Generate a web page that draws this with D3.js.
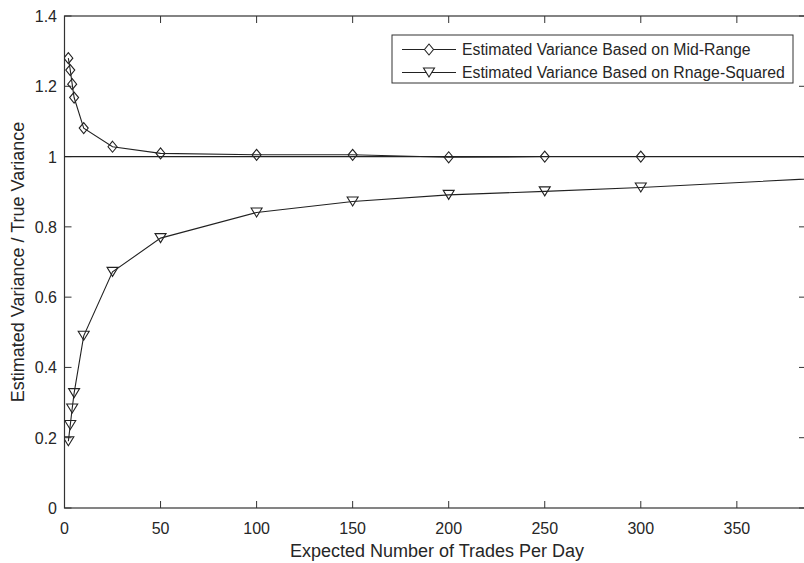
<!DOCTYPE html>
<html><head><meta charset="utf-8">
<script src="https://cdn.jsdelivr.net/npm/d3@7"></script>
<style>body{margin:0;background:#fff}svg{display:block}</style>
</head><body>
<svg id="c" width="804" height="563"></svg>
<script>
const xTrades = [2, 3, 4, 5, 10, 25, 50, 100, 150, 200, 250, 300, 400];
const midRange = [1.280, 1.246, 1.206, 1.168, 1.081, 1.028, 1.009, 1.005, 1.005, 0.998, 1.000, 1.000, 1.000];
const rangeSquared = [0.190, 0.236, 0.283, 0.327, 0.490, 0.672, 0.768, 0.841, 0.872, 0.891, 0.901, 0.912, 0.940];
const xTicks = [0, 50, 100, 150, 200, 250, 300, 350];
const yTicks = [0, 0.2, 0.4, 0.6, 0.8, 1, 1.2, 1.4];
const seriesNames = ["Estimated Variance Based on Mid-Range", "Estimated Variance Based on Rnage-Squared"];
const xLabel = "Expected Number of Trades Per Day";
const yLabel = "Estimated Variance / True Variance";

const svg = d3.select("#c");
const L = 64.5, R = 806, T = 16, B = 508;
const x = d3.scaleLinear().domain([0, 386]).range([L, R]);
const y = d3.scaleLinear().domain([0, 1.4]).range([B, T]);
const axisCol = "#333", lineCol = "#222", textCol = "#262626";
const font = "'Liberation Sans', Arial, sans-serif";

svg.append("defs").append("clipPath").attr("id", "clip")
  .append("rect").attr("x", L).attr("y", T).attr("width", R - L).attr("height", B - T);

// axes box
svg.append("rect").attr("x", L).attr("y", T).attr("width", R - L).attr("height", B - T)
  .attr("fill", "none").attr("stroke", axisCol).attr("stroke-width", 1.2);

// ticks
const tl = 7;
const xg = svg.append("g");
xTicks.forEach(t => {
  xg.append("line").attr("x1", x(t)).attr("x2", x(t)).attr("y1", B).attr("y2", B - tl).attr("stroke", axisCol);
  xg.append("line").attr("x1", x(t)).attr("x2", x(t)).attr("y1", T).attr("y2", T + tl).attr("stroke", axisCol);
  xg.append("text").attr("x", x(t)).attr("y", 534).attr("text-anchor", "middle")
    .attr("font-family", font).attr("font-size", 16).attr("fill", textCol).text(t);
});
const yg = svg.append("g");
yTicks.forEach(t => {
  yg.append("line").attr("x1", L).attr("x2", L + tl).attr("y1", y(t)).attr("y2", y(t)).attr("stroke", axisCol);
  yg.append("line").attr("x1", R).attr("x2", R - tl).attr("y1", y(t)).attr("y2", y(t)).attr("stroke", axisCol);
  yg.append("text").attr("x", 57).attr("y", y(t) + 6).attr("text-anchor", "end")
    .attr("font-family", font).attr("font-size", 16).attr("fill", textCol).text(d3.format("~g")(t));
});

// axis labels
svg.append("text").attr("x", 437).attr("y", 557).attr("text-anchor", "middle")
  .attr("font-family", font).attr("font-size", 18).attr("fill", textCol).text(xLabel);
svg.append("text").attr("transform", `translate(24,${(T + B) / 2}) rotate(-90)`).attr("text-anchor", "middle")
  .attr("font-family", font).attr("font-size", 18).attr("fill", textCol).text(yLabel);

const plot = svg.append("g").attr("clip-path", "url(#clip)");

// reference line at 1
plot.append("line").attr("x1", L).attr("x2", R).attr("y1", y(1)).attr("y2", y(1))
  .attr("stroke", lineCol).attr("stroke-width", 1.2);

const line = d3.line().x(d => x(d[0])).y(d => y(d[1]));
const midPts = xTrades.map((v, i) => [v, midRange[i]]);
const sqPts = xTrades.map((v, i) => [v, rangeSquared[i]]);

const diamond = (cx, cy) => `M${cx},${cy - 5.5}L${cx + 4.5},${cy}L${cx},${cy + 5.5}L${cx - 4.5},${cy}Z`;
const triangle = (cx, cy) => `M${cx - 5.5},${cy - 4.5}L${cx + 5.5},${cy - 4.5}L${cx},${cy + 4.5}Z`;

plot.append("path").attr("d", line(midPts)).attr("fill", "none").attr("stroke", lineCol).attr("stroke-width", 1.1);
plot.append("path").attr("d", line(sqPts)).attr("fill", "none").attr("stroke", lineCol).attr("stroke-width", 1.1);

plot.selectAll(".dm").data(midPts.filter(d => d[0] <= 300)).enter().append("path")
  .attr("d", d => diamond(x(d[0]), y(d[1]))).attr("fill", "none").attr("stroke", lineCol).attr("stroke-width", 1.1);
plot.selectAll(".tr").data(sqPts.filter(d => d[0] <= 300)).enter().append("path")
  .attr("d", d => triangle(x(d[0]), y(d[1]))).attr("fill", "none").attr("stroke", lineCol).attr("stroke-width", 1.1);

// legend
const lg = svg.append("g");
lg.append("rect").attr("x", 392).attr("y", 35).attr("width", 401).attr("height", 48)
  .attr("fill", "#fff").attr("stroke", axisCol).attr("stroke-width", 1);
const rows = [49.5, 72.5];
seriesNames.forEach((name, i) => {
  const cy = rows[i];
  lg.append("line").attr("x1", 402).attr("x2", 456).attr("y1", cy).attr("y2", cy).attr("stroke", lineCol).attr("stroke-width", 1.1);
  lg.append("path").attr("d", i === 0 ? diamond(429, cy) : triangle(429, cy))
    .attr("fill", "#fff").attr("stroke", lineCol).attr("stroke-width", 1.1);
  lg.append("text").attr("x", 462).attr("y", cy + 5.5).attr("font-family", font).attr("font-size", 15.8)
    .attr("fill", textCol).text(name);
});
</script>
</body></html>
